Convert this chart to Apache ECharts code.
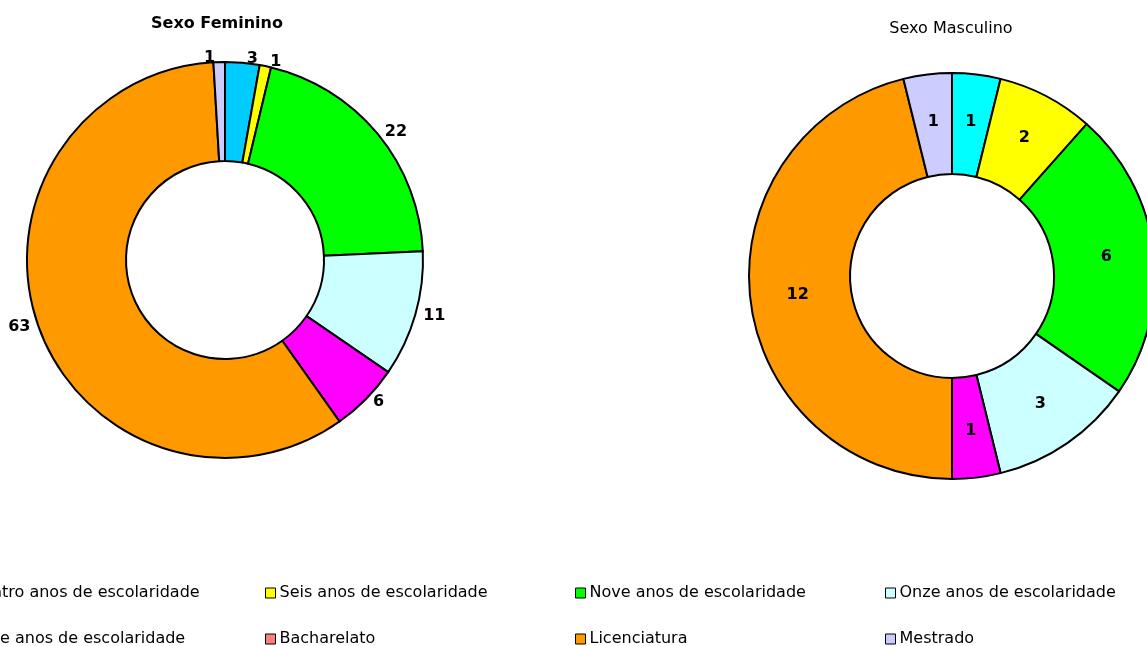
<!DOCTYPE html>
<html>
<head>
<meta charset="utf-8">
<title>Sexo Feminino / Sexo Masculino</title>
<script src="https://cdn.jsdelivr.net/npm/echarts@6/dist/echarts.min.js"></script>
<style>
  html, body { margin: 0; padding: 0; background: #fff; }
  #chart { width: 1147px; height: 646px; }
</style>
</head>
<body>
<div id="chart"></div>
<script>
// categorias (ordem da legenda e dos sectores)
const categories = [
  'Quatro anos de escolaridade',
  'Seis anos de escolaridade',
  'Nove anos de escolaridade',
  'Onze anos de escolaridade',
  'Doze anos de escolaridade',
  'Bacharelato',
  'Licenciatura',
  'Mestrado'
];
const femaleValues = [3, 1, 22, 11, 6, 0, 63, 1];
const maleValues = [1, 2, 6, 3, 1, 0, 12, 1];

// cores
const femaleColors = ['#00CCFF', '#FFFF00', '#00FF00', '#CCFFFF', '#FF00FF', '#FF8080', '#FF9900', '#CCCCFF'];
const maleColors = ['#00FFFF', '#FFFF00', '#00FF00', '#CCFFFF', '#FF00FF', '#FF8080', '#FF9900', '#CCCCFF'];

const myChart = echarts.init(document.getElementById('chart'));

function buildData(values, colors) {
  return categories.map((name, i) => ({
    name: name,
    value: values[i],
    itemStyle: { color: colors[i] }
  }));
}

function hideZero(p) {
  return p.value === 0 ? '' : String(p.value);
}

// legenda em grelha de 4 colunas x 2 linhas
const legendCols = [-45, 265, 575, 885];
const legendRows = [585, 631];
const legends = categories.map((name, i) => ({
  show: true,
  orient: 'horizontal',
  left: legendCols[i % 4],
  top: legendRows[Math.floor(i / 4)],
  data: [name],
  icon: 'rect',
  itemWidth: 10,
  itemHeight: 10,
  itemGap: 0,
  padding: 0,
  selectedMode: false,
  itemStyle: { borderColor: '#000', borderWidth: 1 },
  textStyle: {
    fontFamily: 'DejaVu Sans',
    fontSize: 16,
    color: '#000',
    padding: [0, 0, 0, -1]
  }
}));

const option = {
  backgroundColor: '#fff',
  animation: false,
  title: [
    {
      text: 'Sexo Feminino',
      left: 212,
      top: 11,
      textAlign: 'center',
      textStyle: { fontFamily: 'DejaVu Sans', fontSize: 16, fontWeight: 'bold', color: '#000' }
    },
    {
      text: 'Sexo Masculino',
      left: 946,
      top: 16,
      textAlign: 'center',
      textStyle: { fontFamily: 'DejaVu Sans', fontSize: 16, fontWeight: 'normal', color: '#000' }
    }
  ],
  legend: legends,
  series: [
    {
      name: 'Sexo Feminino',
      type: 'pie',
      center: [225, 260],
      radius: [99, 198],
      startAngle: 90,
      clockwise: true,
      avoidLabelOverlap: false,
      itemStyle: { borderColor: '#000', borderWidth: 2 },
      label: {
        show: true,
        position: 'outside',
        formatter: hideZero,
        fontFamily: 'DejaVu Sans',
        fontSize: 16,
        fontWeight: 'bold',
        color: '#000',
        distanceToLabelLine: 4
      },
      labelLine: { show: false, length: 4, length2: 0 },
      emphasis: { disabled: true },
      data: buildData(femaleValues, femaleColors)
    },
    {
      name: 'Sexo Masculino',
      type: 'pie',
      center: [952, 276],
      radius: [102, 203],
      startAngle: 90,
      clockwise: true,
      avoidLabelOverlap: false,
      itemStyle: { borderColor: '#000', borderWidth: 2 },
      label: {
        show: true,
        position: 'inside',
        formatter: hideZero,
        fontFamily: 'DejaVu Sans',
        fontSize: 16,
        fontWeight: 'bold',
        color: '#000'
      },
      labelLine: { show: false },
      emphasis: { disabled: true },
      data: buildData(maleValues, maleColors)
    }
  ]
};

myChart.setOption(option);
</script>
</body>
</html>
